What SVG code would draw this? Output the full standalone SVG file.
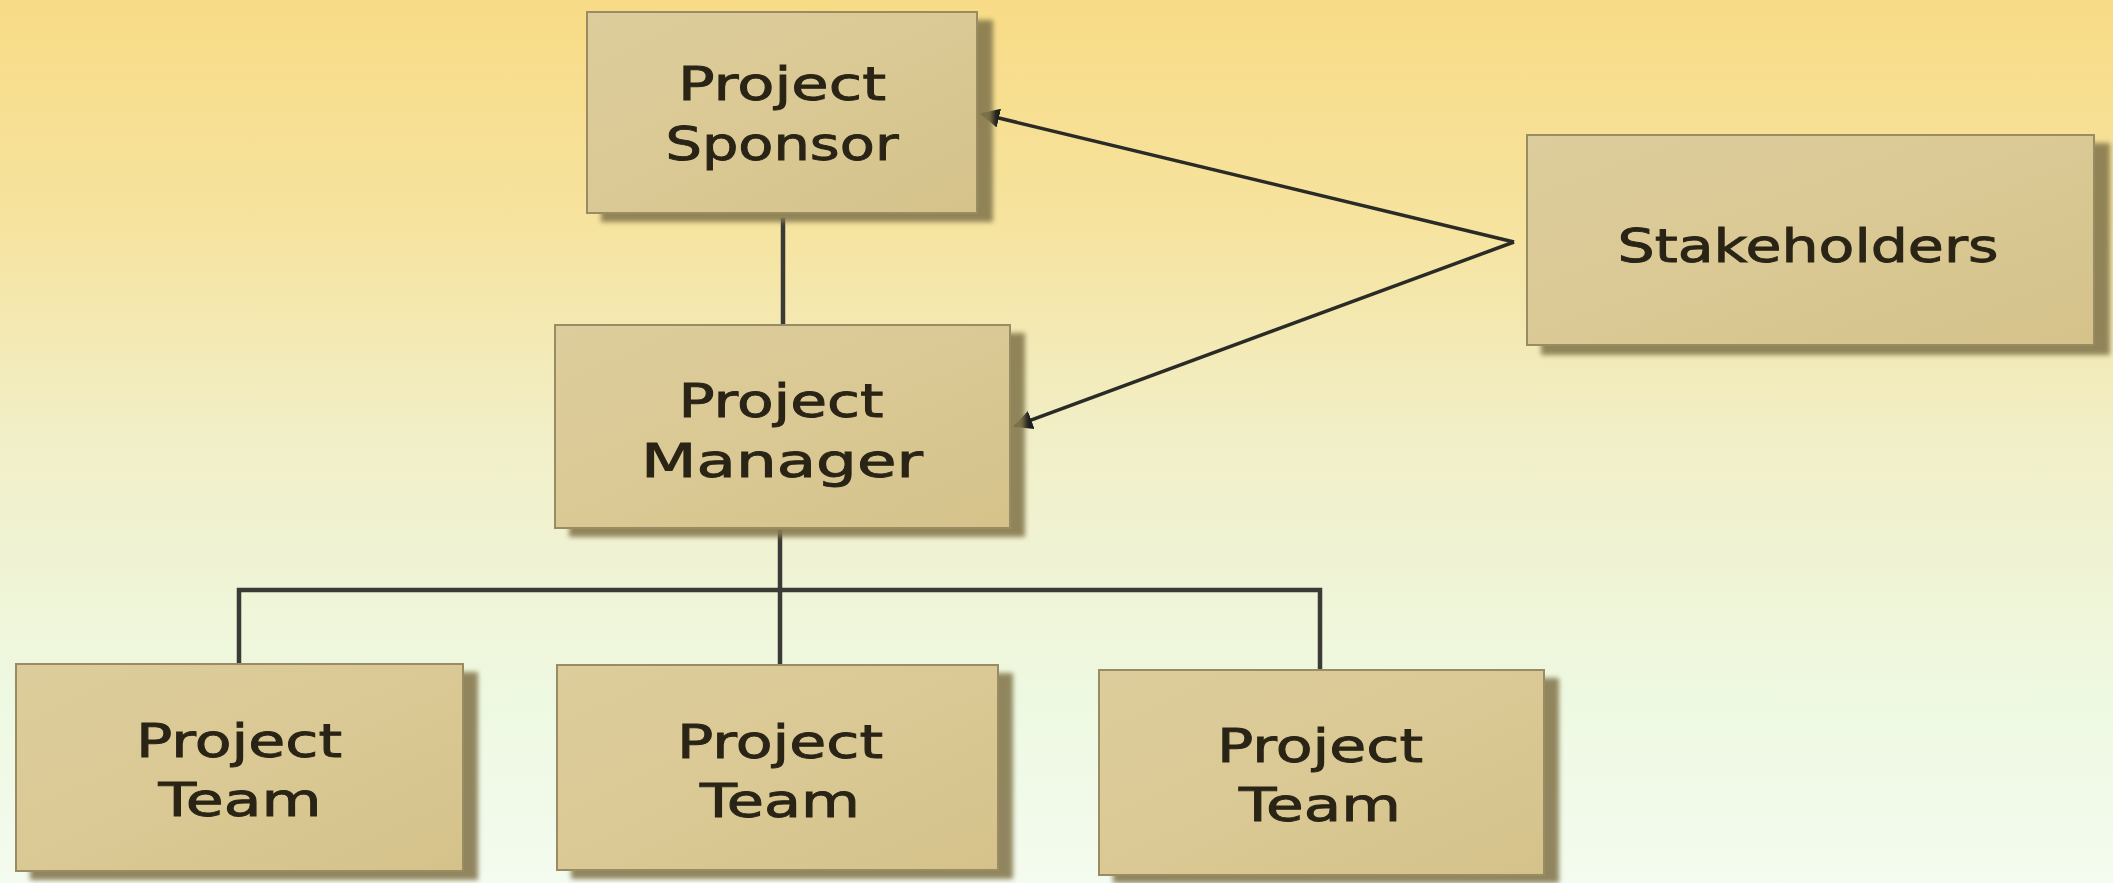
<svg xmlns="http://www.w3.org/2000/svg" width="2113" height="883" viewBox="0 0 2113 883">
  <defs>
    <linearGradient id="bg" x1="0" y1="0" x2="0" y2="1">
      <stop offset="0" stop-color="#F8DB86"/>
      <stop offset="0.25" stop-color="#F6E39E"/>
      <stop offset="0.5" stop-color="#F1EFC8"/>
      <stop offset="0.8" stop-color="#EEF9E2"/>
      <stop offset="1" stop-color="#F4FBEF"/>
    </linearGradient>
    <linearGradient id="boxfill" x1="0" y1="0" x2="1" y2="1">
      <stop offset="0" stop-color="#DDCD9C"/>
      <stop offset="0.5" stop-color="#DAC994"/>
      <stop offset="1" stop-color="#D5C28B"/>
    </linearGradient>
    <filter id="blur" x="-5%" y="-5%" width="110%" height="110%">
      <feGaussianBlur stdDeviation="2.5"/>
    </filter>
    <marker id="arrow" viewBox="0 0 10 10" refX="9" refY="5" markerWidth="5.5" markerHeight="5.5" markerUnits="strokeWidth" orient="auto">
      <path d="M0,0 L10,5 L0,10 z" fill="#1e1e1e"/>
    </marker>
  </defs>
  <style>
    .shadow { fill: #86794F; opacity: 0.9; }
    .box { fill: url(#boxfill); stroke: #9A8C62; stroke-width: 2; }
    .label { font-family: "DejaVu Sans", "Liberation Sans", sans-serif; font-size: 46px; fill: #2a2416; stroke: #2a2416; stroke-width: 0.9; text-anchor: middle; }
    .tree { fill: none; stroke: #3a3a36; stroke-width: 4.5; }
    .arr { fill: none; stroke: #2a2a26; stroke-width: 3.5; marker-end: url(#arrow); }
  </style>

  <rect x="0" y="0" width="2113" height="883" fill="url(#bg)"/>

  <g id="connectors">
    <line class="tree" x1="783" y1="218" x2="783" y2="324"/>
    <line class="tree" x1="780" y1="530" x2="780" y2="665"/>
    <polyline class="tree" points="239,664 239,590 1320,590 1320,670"/>
    <line class="arr" x1="1514" y1="242" x2="982" y2="114"/>
    <line class="arr" x1="1514" y1="242" x2="1015" y2="426"/>
  </g>

  <g id="sponsor">
    <rect class="shadow" x="601" y="20" width="392" height="202" filter="url(#blur)"/>
    <rect class="box" x="587" y="12" width="390" height="201"/>
    <text class="label" x="782" y="100" textLength="208" lengthAdjust="spacingAndGlyphs">Project</text>
    <text class="label" x="782" y="160" textLength="233" lengthAdjust="spacingAndGlyphs">Sponsor</text>
  </g>

  <g id="stakeholders">
    <rect class="shadow" x="1541" y="143" width="569" height="212" filter="url(#blur)"/>
    <rect class="box" x="1527" y="135" width="567" height="210"/>
    <text class="label" x="1808" y="262" textLength="381" lengthAdjust="spacingAndGlyphs">Stakeholders</text>
  </g>

  <g id="manager">
    <rect class="shadow" x="569" y="333" width="456" height="204" filter="url(#blur)"/>
    <rect class="box" x="555" y="325" width="455" height="203"/>
    <text class="label" x="781" y="417" textLength="205" lengthAdjust="spacingAndGlyphs">Project</text>
    <text class="label" x="782" y="477" textLength="282" lengthAdjust="spacingAndGlyphs">Manager</text>
  </g>

  <g id="team1">
    <rect class="shadow" x="30" y="672" width="448" height="208" filter="url(#blur)"/>
    <rect class="box" x="16" y="664" width="447" height="207"/>
    <text class="label" x="239" y="757" textLength="206" lengthAdjust="spacingAndGlyphs">Project</text>
    <text class="label" x="240" y="816" textLength="163" lengthAdjust="spacingAndGlyphs">Team</text>
  </g>

  <g id="team2">
    <rect class="shadow" x="571" y="673" width="442" height="206" filter="url(#blur)"/>
    <rect class="box" x="557" y="665" width="441" height="205"/>
    <text class="label" x="780" y="758" textLength="206" lengthAdjust="spacingAndGlyphs">Project</text>
    <text class="label" x="780" y="817" textLength="160" lengthAdjust="spacingAndGlyphs">Team</text>
  </g>

  <g id="team3">
    <rect class="shadow" x="1113" y="678" width="446" height="205" filter="url(#blur)"/>
    <rect class="box" x="1099" y="670" width="445" height="205"/>
    <text class="label" x="1320" y="762" textLength="206" lengthAdjust="spacingAndGlyphs">Project</text>
    <text class="label" x="1320" y="821" textLength="162" lengthAdjust="spacingAndGlyphs">Team</text>
  </g>
</svg>
